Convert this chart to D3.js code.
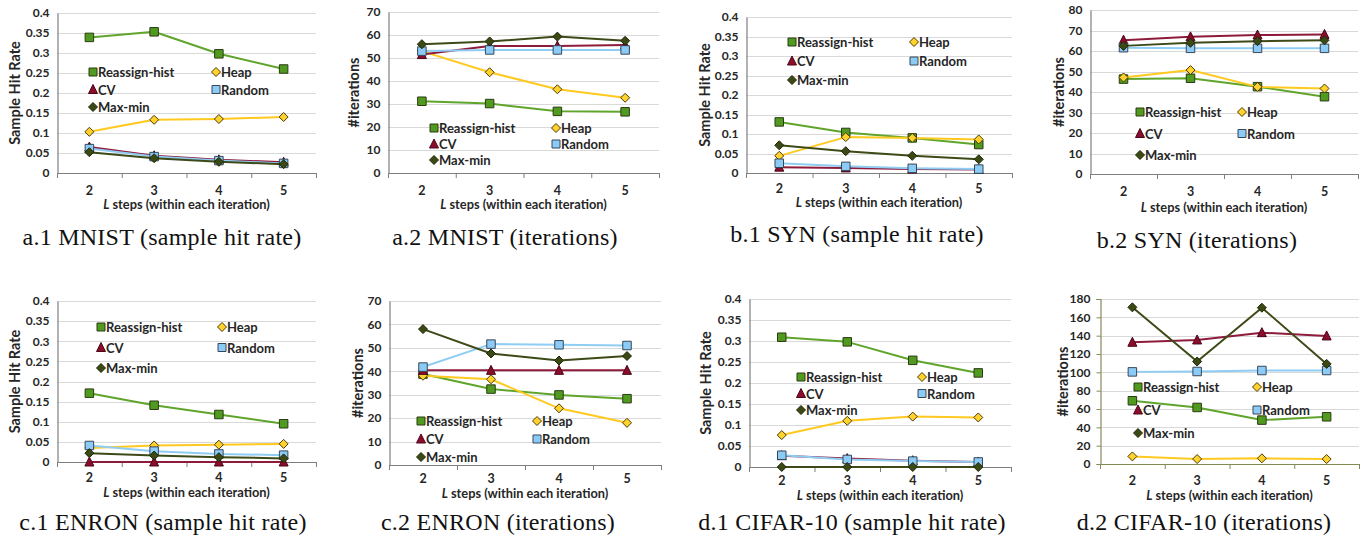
<!DOCTYPE html>
<html><head><meta charset="utf-8">
<script src="https://cdn.jsdelivr.net/npm/d3@7/dist/d3.min.js"></script>
<style>
body{margin:0;background:#fff;}
svg{display:block;}
</style></head>
<body>
<svg id="chart" width="1369" height="540"></svg>
<script>
// ---------- data ----------
const categories = [2, 3, 4, 5];
const seriesNames = ["Reassign-hist", "Heap", "CV", "Random", "Max-min"];
// each array: [Reassign-hist, Heap, CV, Random, Max-min]
const mnistHitRate = [
  [0.339, 0.353, 0.298, 0.260],
  [0.103, 0.133, 0.135, 0.140],
  [0.065, 0.043, 0.033, 0.027],
  [0.061, 0.041, 0.031, 0.024],
  [0.052, 0.037, 0.028, 0.022]
];
const mnistIterations = [
  [31.2, 30.2, 26.8, 26.6],
  [53.0, 43.8, 36.4, 32.7],
  [51.5, 55.2, 55.2, 55.6],
  [53.0, 53.5, 53.5, 53.5],
  [56.0, 57.2, 59.3, 57.5]
];
const synHitRate = [
  [0.131, 0.104, 0.090, 0.073],
  [0.044, 0.092, 0.090, 0.086],
  [0.015, 0.013, 0.010, 0.009],
  [0.025, 0.017, 0.012, 0.010],
  [0.071, 0.056, 0.044, 0.035]
];
const synIterations = [
  [46.3, 46.7, 42.6, 37.7],
  [47.1, 50.7, 42.5, 41.7],
  [65.3, 66.9, 67.8, 68.1],
  [61.6, 61.3, 61.3, 61.3],
  [62.5, 64.0, 64.8, 65.2]
];
const enronHitRate = [
  [0.171, 0.141, 0.118, 0.095],
  [0.035, 0.041, 0.043, 0.045],
  [0.000, 0.000, 0.000, 0.000],
  [0.041, 0.027, 0.020, 0.017],
  [0.022, 0.016, 0.012, 0.009]
];
const enronIterations = [
  [38.8, 32.4, 29.9, 28.3],
  [38.1, 36.6, 24.2, 18.0],
  [40.4, 40.4, 40.4, 40.4],
  [41.8, 51.6, 51.3, 51.0],
  [58.0, 47.6, 44.6, 46.5]
];
const cifarHitRate = [
  [0.309, 0.298, 0.254, 0.224],
  [0.076, 0.110, 0.120, 0.118],
  [0.027, 0.020, 0.015, 0.012],
  [0.028, 0.018, 0.014, 0.012],
  [0.000, 0.000, 0.000, 0.000]
];
const cifarIterations = [
  [69.0, 61.7, 47.9, 51.5],
  [8.3, 5.4, 6.2, 5.4],
  [132.8, 135.3, 143.3, 139.7],
  [100.5, 100.9, 102.0, 102.0],
  [170.9, 111.8, 170.5, 109.2]
];
const hitRateTicks = [0, 0.05, 0.1, 0.15, 0.2, 0.25, 0.3, 0.35, 0.4];
const iter70Ticks = [0, 10, 20, 30, 40, 50, 60, 70];
const iter80Ticks = [0, 10, 20, 30, 40, 50, 60, 70, 80];
const iter180Ticks = [0, 20, 40, 60, 80, 100, 120, 140, 160, 180];
const captions = [
  "a.1 MNIST (sample hit rate)", "a.2 MNIST (iterations)",
  "b.1 SYN (sample hit rate)", "b.2 SYN (iterations)",
  "c.1 ENRON (sample hit rate)", "c.2 ENRON (iterations)",
  "d.1 CIFAR-10 (sample hit rate)", "d.2 CIFAR-10 (iterations)"
];

// ---------- styles ----------
const markerShapes = ["square", "diamond", "triangle", "square", "diamond"];
const lineColors = ["#5fa52c", "#ffc91f", "#8e1b3b", "#8fcdf4", "#3d4a17"];
const fillColors = ["#4f9a1f", "#ffd22e", "#8b0d2c", "#8ccbf5", "#3b4a14"];
const strokeColors = ["#2c3b14", "#4a3b00", "#4a0618", "#37475a", "#1e2608"];

const panels = [
  {data: mnistHitRate, ticks: hitRateTicks, fmt: "hit", ylab: "Sample Hit Rate",
   x0: 57, x1: 316, yTop: 13, yZero: 173, tickY: 195, titleY: 209, ylabX: 14,
   leg: {c1: 93, c2: 216, y: 72, dy: 17.5}, cap: 162, capY: 245},
  {data: mnistIterations, ticks: iter70Ticks, fmt: "int", ylab: "#iterations",
   x0: 388, x1: 659, yTop: 12, yZero: 173, tickY: 195, titleY: 209, ylabX: 353,
   leg: {c1: 434, c2: 556, y: 128, dy: 16}, cap: 505, capY: 245},
  {data: synHitRate, ticks: hitRateTicks, fmt: "hit", ylab: "Sample Hit Rate",
   x0: 746, x1: 1012, yTop: 17, yZero: 173, tickY: 193, titleY: 207, ylabX: 704,
   leg: {c1: 792, c2: 914, y: 42, dy: 19}, cap: 857, capY: 242},
  {data: synIterations, ticks: iter80Ticks, fmt: "int", ylab: "#iterations",
   x0: 1090, x1: 1358, yTop: 10, yZero: 174, tickY: 196, titleY: 212, ylabX: 1058,
   leg: {c1: 1140, c2: 1242, y: 112, dy: 21.5}, cap: 1197, capY: 248},
  {data: enronHitRate, ticks: hitRateTicks, fmt: "hit", ylab: "Sample Hit Rate",
   x0: 57, x1: 316, yTop: 301, yZero: 462, tickY: 482, titleY: 497, ylabX: 14,
   leg: {c1: 101, c2: 222, y: 327, dy: 20.5}, cap: 163, capY: 530},
  {data: enronIterations, ticks: iter70Ticks, fmt: "int", ylab: "#iterations",
   x0: 389, x1: 661, yTop: 301, yZero: 465, tickY: 483, titleY: 498, ylabX: 357,
   leg: {c1: 421, c2: 537, y: 421, dy: 18}, cap: 498, capY: 530},
  {data: cifarHitRate, ticks: hitRateTicks, fmt: "hit", ylab: "Sample Hit Rate",
   x0: 749, x1: 1011, yTop: 299, yZero: 467, tickY: 485, titleY: 500, ylabX: 705,
   leg: {c1: 801, c2: 922, y: 377, dy: 16.5}, cap: 852, capY: 530},
  {data: cifarIterations, ticks: iter180Ticks, fmt: "int", ylab: "#iterations",
   x0: 1100, x1: 1359, yTop: 299, yZero: 464, tickY: 485, titleY: 500, ylabX: 1062,
   leg: {c1: 1138, c2: 1257, y: 387, dy: 23}, cap: 1204, capY: 530, olive: true}
];

function markerPath(shape, s) {
  const h = s / 2;
  if (shape === "square") return `M${-h},${-h}H${h}V${h}H${-h}Z`;
  if (shape === "diamond") return `M0,${-h - 0.5}L${h + 0.5},0L0,${h + 0.5}L${-h - 0.5},0Z`;
  return `M0,${-h - 1}L${h + 0.5},${h}L${-h - 0.5},${h}Z`;
}

const svg = d3.select("#chart");
const font = "Lato, 'Open Sans', sans-serif";
const textColor = "#262626";

panels.forEach((p, pi) => {
  const g = svg.append("g");
  const x = d3.scaleBand().domain(categories).range([p.x0, p.x1]).paddingInner(0).paddingOuter(0);
  const yMax = p.ticks[p.ticks.length - 1];
  const y = d3.scaleLinear().domain([0, yMax]).range([p.yZero, p.yTop]);
  const fmt = p.fmt === "hit" ? (d => d === 0 ? "0" : String(+d.toFixed(2))) : (d => String(d));
  const axisColor = p.olive ? "#858a55" : "#7f7f7f";

  // gridlines
  g.append("g").selectAll("line").data(p.ticks.filter(t => t > 0)).join("line")
    .attr("x1", p.x0).attr("x2", p.x1)
    .attr("y1", d => Math.round(y(d)) + 0.5).attr("y2", d => Math.round(y(d)) + 0.5)
    .attr("stroke", "#d9d9d9").attr("stroke-width", 1);

  // y axis
  const yAxis = d3.axisLeft(y).tickValues(p.ticks).tickFormat(fmt).tickSize(p.olive ? 4 : 0).tickPadding(p.olive ? 6 : 8);
  const ya = g.append("g").attr("transform", `translate(${p.x0 + 0.5},0)`).call(yAxis);
  ya.select(".domain").attr("stroke", axisColor).attr("stroke-width", 1.2);
  ya.selectAll(".tick line").attr("stroke", axisColor);
  ya.selectAll(".tick text").attr("font-family", font).attr("font-weight", "bold")
    .attr("font-size", 12).attr("fill", textColor);

  // x axis: line + ticks at band boundaries
  const xa = g.append("g");
  xa.append("line").attr("x1", p.x0).attr("x2", p.x1)
    .attr("y1", p.yZero + 0.5).attr("y2", p.yZero + 0.5)
    .attr("stroke", axisColor).attr("stroke-width", 1.2);
  const bounds = categories.map(c => x(c)).concat([p.x1]);
  xa.selectAll("line.tk").data(bounds).join("line").attr("class", "tk")
    .attr("x1", d => d + 0.5).attr("x2", d => d + 0.5)
    .attr("y1", p.yZero).attr("y2", p.yZero + 5)
    .attr("stroke", axisColor);
  xa.selectAll("text").data(categories).join("text")
    .attr("x", d => x(d) + x.bandwidth() / 2).attr("y", p.tickY)
    .attr("text-anchor", "middle").attr("font-family", font).attr("font-weight", "bold")
    .attr("font-size", 12.5).attr("fill", textColor).text(d => d);

  // x title
  const xt = g.append("text").attr("x", (p.x0 + p.x1) / 2).attr("y", p.titleY)
    .attr("text-anchor", "middle").attr("font-family", font).attr("font-weight", "bold")
    .attr("font-size", 12.8).attr("fill", textColor);
  xt.append("tspan").attr("font-style", "italic").text("L");
  xt.append("tspan").text(" steps (within each iteration)");

  // y title
  g.append("text").attr("transform", `translate(${p.ylabX},${(p.yTop + p.yZero) / 2}) rotate(-90)`)
    .attr("text-anchor", "middle").attr("dominant-baseline", "central")
    .attr("font-family", font).attr("font-weight", "bold").attr("font-size", 14.5)
    .attr("fill", textColor).text(p.ylab);

  // series
  const line = d3.line().x((d, i) => x(categories[i]) + x.bandwidth() / 2).y(d => y(d));
  p.data.forEach((vals, si) => {
    const sg = g.append("g");
    sg.append("path").attr("d", line(vals)).attr("fill", "none")
      .attr("stroke", lineColors[si]).attr("stroke-width", 2).attr("stroke-linejoin", "round");
    sg.selectAll("path.m").data(vals).join("path").attr("class", "m")
      .attr("transform", (d, i) => `translate(${x(categories[i]) + x.bandwidth() / 2},${y(d)})`)
      .attr("d", markerPath(markerShapes[si], si === 0 || si === 3 ? 8.5 : 8))
      .attr("fill", fillColors[si]).attr("stroke", strokeColors[si]).attr("stroke-width", 1);
  });

  // legend
  const lp = [[p.leg.c1, p.leg.y], [p.leg.c2, p.leg.y], [p.leg.c1, p.leg.y + p.leg.dy],
              [p.leg.c2, p.leg.y + p.leg.dy], [p.leg.c1, p.leg.y + 2 * p.leg.dy]];
  const lg = g.append("g");
  seriesNames.forEach((name, si) => {
    const [lx, ly] = lp[si];
    lg.append("path").attr("transform", `translate(${lx},${ly})`)
      .attr("d", markerPath(markerShapes[si], 8))
      .attr("fill", fillColors[si]).attr("stroke", strokeColors[si]).attr("stroke-width", 1);
    lg.append("text").attr("x", lx + 5).attr("y", ly).attr("dominant-baseline", "central")
      .attr("font-family", font).attr("font-weight", "bold").attr("font-size", 13)
      .attr("fill", textColor).text(name);
  });

  // caption
  svg.append("text").attr("x", p.cap).attr("y", p.capY).attr("text-anchor", "middle")
    .attr("font-family", "'Liberation Serif', 'Times New Roman', serif").attr("font-size", 24)
    .attr("letter-spacing", 0.25)
    .attr("fill", "#111").text(captions[pi]);
});
</script>
</body></html>
